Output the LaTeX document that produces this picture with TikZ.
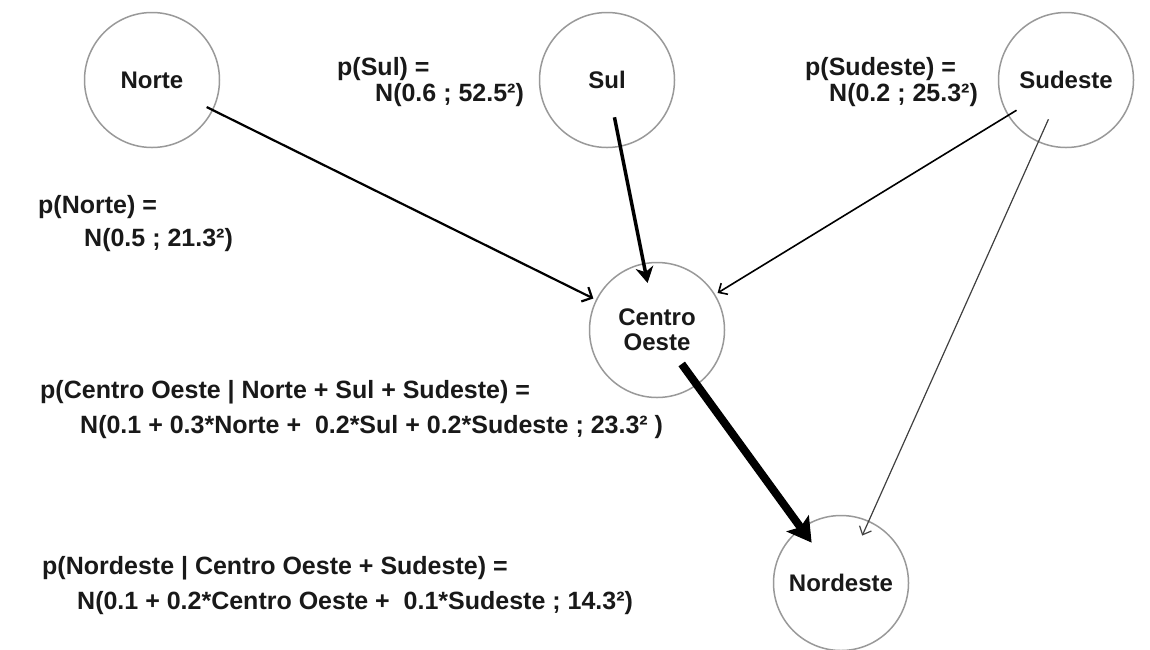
\documentclass[tikz,border=0pt]{standalone}
\usepackage{fontspec}
\setmainfont{Liberation Sans}
\usetikzlibrary{arrows.meta,calc}
\begin{document}
\begin{tikzpicture}[x=1pt,y=-1pt,
  every node/.style={font=\fontsize{25}{27}\selectfont\bfseries, text=black!90},
  var/.style={circle, draw=black!40, line width=1.5pt, minimum size=135pt, inner sep=0pt, align=center},
  varlabel/.style={font=\fontsize{24}{26}\selectfont\bfseries},
  eq/.style={anchor=base west, inner sep=0pt},
  edge/.style={draw=black, -{Straight Barb[length=8pt,width=16pt]}},
]
\useasboundingbox (0,0) rectangle (1150,649);
\node[var, varlabel] (N) at (152,80) {Norte};
\node[var, varlabel] (S) at (607,80) {Sul};
\node[var, varlabel] (SE) at (1066,80) {Sudeste};
\node[var, varlabel] (CO) at (657,330) {Centro\\[-1pt]Oeste};
\node[var, varlabel] (NE) at (841,583) {Nordeste};

\node[eq] (tN1) at (38,213) {p(Norte) =};
\node[eq] (tN2) at (84,246) {N(0.5 ; 21.3²)};
\node[eq] (tS1) at (337,75) {p(Sul) =};
\node[eq] (tS2) at (375,101) {N(0.6 ; 52.5²)};
\node[eq] (tSE1) at (805,75) {p(Sudeste) =};
\node[eq] (tSE2) at (829,101) {N(0.2 ; 25.3²)};
\node[eq] (tCO1) at (40,398) {p(Centro Oeste | Norte + Sul + Sudeste) =};
\node[eq] (tCO2) at (80,433) {N(0.1 + 0.3*Norte +\ \ 0.2*Sul + 0.2*Sudeste ; 23.3² )};
\node[eq] (tNE1) at (42,574) {p(Nordeste | Centro Oeste + Sudeste) =};
\node[eq] (tNE2) at (77,609) {N(0.1 + 0.2*Centro Oeste +\ \ 0.1*Sudeste ; 14.3²)};

\draw[edge, line width=2.2pt] ($(N.center)!61pt!(CO.center)$) -- ($(CO.center)!71pt!(N.center)$);
\draw[edge, line width=3.5pt, -{Stealth[length=16pt,width=18pt,inset=5pt,line width=1pt]}] ($(S.center)!38pt!(CO.center)$) -- ($(CO.center)!48pt!(S.center)$);
\draw[edge, line width=1.6pt, -{Straight Barb[length=7pt,width=13pt]}] ($(SE.center)!58pt!(CO.center)$) -- ($(CO.center)!71pt!(SE.center)$);
\draw[edge, draw=black!75, line width=1.2pt, -{Straight Barb[length=7pt,width=13pt]}] ($(SE.center)!43pt!(NE.center)$) -- ($(NE.center)!52pt!(SE.center)$);
\draw[edge, line width=8pt, -{Stealth[length=24pt,width=28pt,inset=5pt,line width=1pt]}] ($(CO.center)!42pt!(NE.center)$) -- ($(NE.center)!50pt!(CO.center)$);
\end{tikzpicture}
\end{document}
